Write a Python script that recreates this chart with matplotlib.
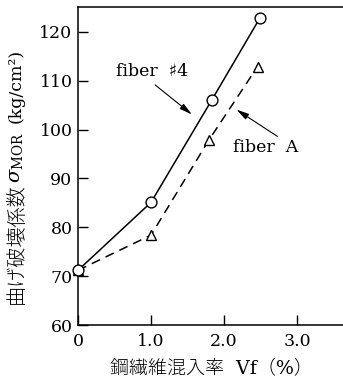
import matplotlib
matplotlib.use('Agg')
import matplotlib.pyplot as plt

# データ (鋼繊維混入率 Vf [%], 曲げ破壊係数 [kg/cm2])
vf_fiber4 = [0.0, 1.0, 1.83, 2.49]
mor_fiber4 = [71.2, 85.1, 106.0, 122.8]
vf_fiberA = [0.0, 1.0, 1.79, 2.46]
mor_fiberA = [71.2, 78.4, 97.8, 112.9]

x_ticks = [0, 1.0, 2.0, 3.0]
x_ticklabels = ['0', '1.0', '2.0', '3.0']
y_ticks = [60, 70, 80, 90, 100, 110, 120]

fonts = ['DejaVu Serif', 'Noto Sans CJK JP']
plt.rcParams['font.family'] = fonts
plt.rcParams['mathtext.fontset'] = 'dejavuserif'

fig = plt.figure(figsize=(3.43, 3.83), dpi=100)
ax = fig.add_axes([0.2274, 0.1514, 0.7726, 0.8303])

# 曲線
ax.plot(vf_fiber4, mor_fiber4, '-', color='black', lw=1.1,
        marker='o', markersize=7.8, markerfacecolor='white',
        markeredgecolor='black', markeredgewidth=1.0, zorder=3, clip_on=False)
ax.plot(vf_fiberA, mor_fiberA, '--', color='black', lw=1.1,
        dashes=(6, 4), marker='^', markersize=6.5, markerfacecolor='white',
        markeredgecolor='black', markeredgewidth=1.0, zorder=2, clip_on=False)

ax.set_xlim(0, 3.63)
ax.set_ylim(60, 125.1)
ax.set_xticks(x_ticks)
ax.set_xticklabels(x_ticklabels)
ax.set_yticks(y_ticks)
ax.tick_params(direction='in', length=7, width=1.0, labelsize=12.5)
ax.tick_params(axis='y', pad=4)
ax.tick_params(axis='x', pad=6)
ax.spines['right'].set_visible(False)
for s in ['left', 'bottom', 'top']:
    ax.spines[s].set_linewidth(1.1)

# 注記
ax.annotate('fiber  \u266f4', xy=(1.56, 103.1), xytext=(0.52, 112.0),
            fontsize=12.5, va='center', ha='left',
            arrowprops=dict(arrowstyle='-|>,head_length=0.6,head_width=0.15',
                            color='black', lw=0.8, shrinkA=3, shrinkB=0,
                            relpos=(0.45, 0.0)))
ax.annotate('fiber  A', xy=(2.17, 104.1), xytext=(2.12, 96.3),
            fontsize=12.5, va='center', ha='left',
            arrowprops=dict(arrowstyle='-|>,head_length=0.6,head_width=0.15',
                            color='black', lw=0.8, shrinkA=0, shrinkB=0,
                            relpos=(0.75, 1.0)))

# 縦軸ラベル (和文と記号を分けて配置)
fig.text(16 / 343, 1 - 244 / 383, '曲げ破壊係数', rotation=90,
         ha='center', va='center', fontsize=14.5, fontweight='light')
fig.text(16 / 343, 1 - 158 / 383, '$\\sigma_{\\rm MOR}$', rotation=90,
         ha='center', va='center', fontsize=14)
fig.text(16 / 343, 1 - 86 / 383, '(kg/cm\u00b2)', rotation=90,
         ha='center', va='center', fontsize=12.5)
# 横軸ラベル
fig.text(211 / 343, 1 - 368 / 383, '鋼繊維混入率  Vf\uff08%\uff09',
         ha='center', va='center', fontsize=13.7, fontweight='light')

fig.savefig('out.png', dpi=100)
